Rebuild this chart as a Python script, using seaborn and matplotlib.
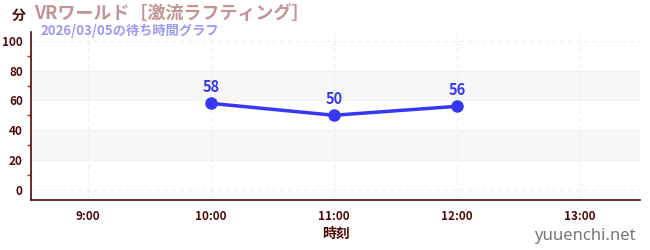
import matplotlib
matplotlib.use("Agg")
import matplotlib.pyplot as plt
import seaborn as sns
import pandas as pd

times = ["10:00", "11:00", "12:00"]
waits = [58, 50, 56]
xtick_labels = ["9:00", "10:00", "11:00", "12:00", "13:00"]
title = "VRワールド［激流ラフティング］"
subtitle = "2026/03/05の待ち時間グラフ"

sns.set_theme(style="white")
plt.rcParams['font.family'] = ['Noto Sans CJK JP', 'DejaVu Sans']

def to_h(t):
    h, m = t.split(":")
    return int(h) + int(m) / 60

df = pd.DataFrame({"hour": [to_h(t) for t in times], "wait": waits})

fig = plt.figure(figsize=(6.5, 2.5), dpi=100)
ax = fig.add_axes([0.048, 0.2, 0.937, 0.672])

dark = "#4d0a0a"
ax.axhspan(20, 40, color="#f7f7f7", zorder=0)
ax.axhspan(60, 80, color="#f7f7f7", zorder=0)

sns.lineplot(data=df, x="hour", y="wait", ax=ax, color="#3636f5", linewidth=2.5,
             marker="o", markersize=9, markeredgewidth=0, zorder=5)
for x, y in zip(df["hour"], df["wait"]):
    ax.annotate(str(y), (x, y), xytext=(0, 6), textcoords="offset points",
                ha="center", va="bottom", color="#3636f5", fontsize=10.5, fontweight="bold")

ax.set_xlim(8.54, 13.49)
ax.set_ylim(-7, 106)
ax.set_xticks([to_h(t) for t in xtick_labels])
ax.set_xticklabels(xtick_labels)
ax.set_yticks([0, 20, 40, 60, 80, 100])
ax.set_yticks([10, 30, 50, 70, 90], minor=True)
ax.tick_params(axis="both", which="major", colors=dark, labelcolor=dark, labelsize=8.5,
               length=4, width=1, direction="out")
ax.tick_params(axis="y", which="minor", colors="#cc2222", length=3, width=1, left=True)
ax.tick_params(axis="y", pad=2)
ax.tick_params(axis="x", pad=3)
for lab in ax.get_xticklabels() + ax.get_yticklabels():
    lab.set_fontweight("bold")
ax.grid(True, which="major", axis="both", color="#ededed", linestyle=(0, (4, 3)), linewidth=0.8)
ax.set_axisbelow(True)
for s in ["top", "right"]:
    ax.spines[s].set_visible(False)
for s in ["left", "bottom"]:
    ax.spines[s].set_color(dark)
    ax.spines[s].set_linewidth(1.2)
ax.set_xlabel("時刻", color=dark, fontsize=10, fontweight="bold", labelpad=3)
ax.set_ylabel("")

fig.text(0.018, 0.935, "分", color=dark, fontsize=10, fontweight="bold", ha="left", va="center")
fig.text(0.052, 0.945, title, color="#c49393", fontsize=13, fontweight="bold", ha="left", va="center")
fig.text(0.062, 0.875, subtitle, color="#9a9af0", fontsize=9.5, fontweight="bold", ha="left", va="center")
fig.text(0.978, 0.055, "yuuenchi.net", color="#777777", fontsize=12, ha="right", va="center",
         family=["Noto Sans", "DejaVu Sans"])

fig.savefig("out.png", dpi=100)
